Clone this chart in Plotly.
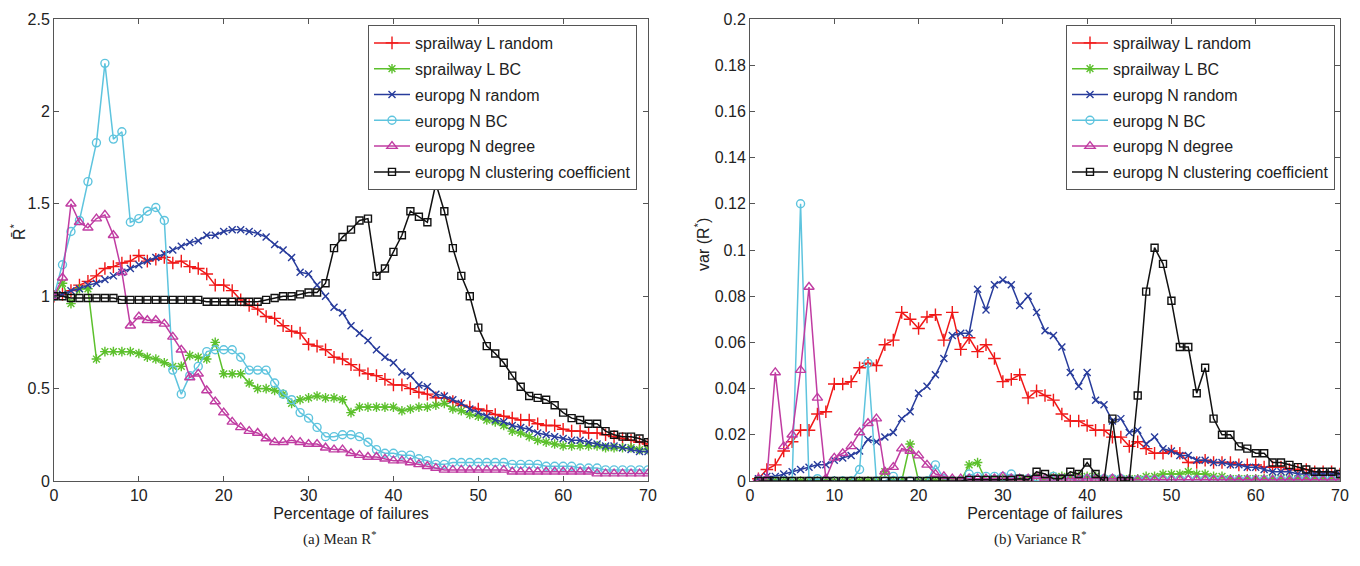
import plotly.graph_objects as go

# ---------------- data ----------------
x_mean = list(range(0, 71))
x_var = list(range(1, 71))

series_names = ["sprailway L random", "sprailway L BC", "europg N random",
                "europg N BC", "europg N degree", "europg N clustering coefficient"]

mean_sprail_random = [1.00, 1.01, 1.03, 1.06, 1.08, 1.11, 1.15, 1.16, 1.18, 1.19,
                      1.22, 1.19, 1.20, 1.21, 1.18, 1.19, 1.16, 1.15, 1.12, 1.06,
                      1.06, 1.03, 0.98, 0.95, 0.93, 0.89, 0.88, 0.84, 0.81, 0.80,
                      0.74, 0.73, 0.71, 0.67, 0.66, 0.63, 0.60, 0.58, 0.57, 0.55,
                      0.52, 0.52, 0.50, 0.48, 0.47, 0.45, 0.45, 0.43, 0.41, 0.40,
                      0.39, 0.38, 0.36, 0.35, 0.34, 0.33, 0.33, 0.31, 0.30, 0.30,
                      0.28, 0.27, 0.27, 0.26, 0.26, 0.25, 0.24, 0.23, 0.22, 0.21, 0.20]
mean_sprail_bc = [1.00, 1.07, 0.96, 1.04, 1.04, 0.66, 0.70, 0.70, 0.70, 0.70,
                  0.69, 0.67, 0.66, 0.64, 0.62, 0.62, 0.68, 0.67, 0.66, 0.75,
                  0.58, 0.58, 0.58, 0.53, 0.50, 0.50, 0.49, 0.47, 0.42, 0.44,
                  0.45, 0.46, 0.45, 0.45, 0.44, 0.37, 0.40, 0.40, 0.40, 0.40,
                  0.40, 0.38, 0.39, 0.40, 0.40, 0.41, 0.42, 0.39, 0.38, 0.36,
                  0.35, 0.33, 0.32, 0.30, 0.27, 0.26, 0.24, 0.22, 0.21, 0.20,
                  0.19, 0.19, 0.19, 0.19, 0.19, 0.18, 0.18, 0.18, 0.18, 0.17, 0.17]
mean_europg_random = [1.00, 1.01, 1.03, 1.04, 1.06, 1.07, 1.09, 1.11, 1.13, 1.15,
                      1.17, 1.19, 1.21, 1.23, 1.25, 1.27, 1.29, 1.30, 1.33, 1.33,
                      1.35, 1.36, 1.36, 1.35, 1.34, 1.32, 1.28, 1.25, 1.21, 1.13,
                      1.12, 1.06, 1.00, 0.94, 0.91, 0.84, 0.80, 0.76, 0.71, 0.67,
                      0.64, 0.59, 0.57, 0.52, 0.51, 0.47, 0.46, 0.44, 0.42, 0.39,
                      0.37, 0.35, 0.33, 0.32, 0.30, 0.29, 0.28, 0.26, 0.25, 0.24,
                      0.23, 0.22, 0.22, 0.21, 0.20, 0.19, 0.19, 0.18, 0.17, 0.16, 0.16]
mean_europg_bc = [1.00, 1.17, 1.35, 1.41, 1.62, 1.83, 2.26, 1.85, 1.89, 1.40,
                  1.42, 1.46, 1.48, 1.41, 0.60, 0.47, 0.57, 0.62, 0.70, 0.71,
                  0.71, 0.71, 0.67, 0.60, 0.60, 0.60, 0.53, 0.47, 0.44, 0.37,
                  0.34, 0.29, 0.24, 0.24, 0.25, 0.25, 0.24, 0.21, 0.17, 0.15,
                  0.15, 0.14, 0.14, 0.12, 0.11, 0.09, 0.09, 0.10, 0.10, 0.10,
                  0.10, 0.10, 0.10, 0.10, 0.09, 0.09, 0.09, 0.09, 0.08, 0.08,
                  0.08, 0.08, 0.07, 0.07, 0.07, 0.06, 0.06, 0.06, 0.06, 0.06, 0.06]
mean_europg_degree = [1.00, 1.10, 1.50, 1.40, 1.37, 1.42, 1.44, 1.33, 1.13, 0.84,
                      0.89, 0.87, 0.87, 0.85, 0.78, 0.71, 0.56, 0.58, 0.49, 0.43,
                      0.37, 0.32, 0.29, 0.27, 0.26, 0.23, 0.21, 0.21, 0.22, 0.21,
                      0.20, 0.20, 0.18, 0.17, 0.17, 0.15, 0.14, 0.13, 0.13, 0.12,
                      0.11, 0.11, 0.10, 0.09, 0.08, 0.07, 0.06, 0.06, 0.06, 0.06,
                      0.06, 0.06, 0.06, 0.06, 0.05, 0.05, 0.05, 0.05, 0.05, 0.05,
                      0.05, 0.05, 0.05, 0.05, 0.04, 0.04, 0.04, 0.04, 0.04, 0.04, 0.04]
mean_europg_cc = [1.00, 1.00, 0.99, 0.99, 0.99, 0.99, 0.99, 0.99, 0.98, 0.98,
                  0.98, 0.98, 0.98, 0.98, 0.98, 0.98, 0.98, 0.98, 0.97, 0.97,
                  0.97, 0.97, 0.97, 0.97, 0.97, 0.98, 0.99, 1.00, 1.00, 1.01,
                  1.02, 1.02, 1.07, 1.26, 1.32, 1.36, 1.41, 1.42, 1.11, 1.15,
                  1.24, 1.33, 1.46, 1.43, 1.40, 1.61, 1.46, 1.26, 1.11, 1.00,
                  0.83, 0.73, 0.69, 0.64, 0.57, 0.51, 0.46, 0.45, 0.44, 0.41,
                  0.37, 0.34, 0.33, 0.31, 0.31, 0.27, 0.25, 0.24, 0.24, 0.23, 0.21]

var_sprail_random = [0.001, 0.005, 0.007, 0.013, 0.017, 0.022, 0.022, 0.029, 0.030, 0.042,
                     0.042, 0.043, 0.049, 0.051, 0.050, 0.059, 0.061, 0.073, 0.070, 0.066,
                     0.071, 0.072, 0.061, 0.073, 0.057, 0.062, 0.056, 0.059, 0.053, 0.043,
                     0.044, 0.046, 0.036, 0.039, 0.037, 0.035, 0.029, 0.026, 0.026, 0.024,
                     0.022, 0.022, 0.019, 0.019, 0.015, 0.017, 0.014, 0.012, 0.012, 0.013,
                     0.012, 0.008, 0.008, 0.009, 0.008, 0.008, 0.008, 0.007, 0.007, 0.007,
                     0.006, 0.006, 0.006, 0.005, 0.005, 0.005, 0.004, 0.004, 0.004, 0.003]
var_sprail_bc = [0.0, 0.0, 0.0, 0.0, 0.0, 0.0, 0.0, 0.0, 0.0, 0.0,
                 0.0, 0.0, 0.0, 0.0, 0.0, 0.004, 0.0, 0.0, 0.016, 0.0,
                 0.0, 0.0, 0.0, 0.0, 0.0, 0.007, 0.008, 0.0, 0.001, 0.001,
                 0.001, 0.001, 0.001, 0.002, 0.0, 0.002, 0.002, 0.002, 0.002, 0.002,
                 0.002, 0.001, 0.001, 0.001, 0.001, 0.001, 0.002, 0.002, 0.003, 0.003,
                 0.003, 0.004, 0.003, 0.003, 0.002, 0.002, 0.001, 0.001, 0.001, 0.001,
                 0.001, 0.001, 0.001, 0.001, 0.001, 0.001, 0.001, 0.001, 0.001, 0.001]
var_europg_random = [0.001, 0.002, 0.002, 0.003, 0.004, 0.005, 0.006, 0.007, 0.007, 0.009,
                     0.010, 0.011, 0.013, 0.018, 0.017, 0.019, 0.021, 0.027, 0.030, 0.038,
                     0.041, 0.046, 0.053, 0.063, 0.064, 0.064, 0.083, 0.074, 0.085, 0.087,
                     0.085, 0.076, 0.080, 0.073, 0.065, 0.063, 0.058, 0.047, 0.041, 0.047,
                     0.035, 0.033, 0.026, 0.027, 0.021, 0.022, 0.016, 0.019, 0.014, 0.013,
                     0.011, 0.011, 0.009, 0.009, 0.008, 0.008, 0.007, 0.007, 0.006, 0.006,
                     0.005, 0.004, 0.004, 0.004, 0.003, 0.003, 0.003, 0.003, 0.003, 0.003]
var_europg_bc = [0.0, 0.0, 0.0, 0.0, 0.0, 0.120, 0.0, 0.001, 0.0, 0.0,
                 0.0, 0.0, 0.005, 0.051, 0.0, 0.0, 0.002, 0.0, 0.0, 0.0,
                 0.0, 0.007, 0.001, 0.0, 0.0, 0.003, 0.002, 0.002, 0.002, 0.002,
                 0.003, 0.001, 0.001, 0.0, 0.0, 0.002, 0.001, 0.001, 0.0, 0.001,
                 0.001, 0.001, 0.001, 0.001, 0.0005, 0.0005, 0.0005, 0.0005, 0.0005, 0.0005,
                 0.0005, 0.0005, 0.0005, 0.0005, 0.0005, 0.0005, 0.0005, 0.0005, 0.0005, 0.0005,
                 0.0005, 0.0005, 0.0005, 0.0005, 0.0005, 0.0005, 0.0005, 0.0005, 0.0005, 0.0005]
var_europg_degree = [0.001, 0.001, 0.047, 0.015, 0.020, 0.048, 0.084, 0.036, 0.001, 0.010,
                     0.012, 0.015, 0.021, 0.025, 0.027, 0.004, 0.006, 0.014, 0.013, 0.011,
                     0.007, 0.003, 0.002, 0.001, 0.001, 0.001, 0.001, 0.001, 0.001, 0.002,
                     0.001, 0.001, 0.001, 0.002, 0.001, 0.001, 0.001, 0.001, 0.001, 0.001,
                     0.001, 0.001, 0.001, 0.001, 0.0005, 0.0005, 0.0005, 0.0005, 0.0005, 0.0005,
                     0.0005, 0.0005, 0.0005, 0.0005, 0.0005, 0.0005, 0.0005, 0.0005, 0.0005, 0.0005,
                     0.0005, 0.0005, 0.0005, 0.0005, 0.0005, 0.0005, 0.0005, 0.0005, 0.0005, 0.0005]
var_europg_cc = [0.0, 0.0, 0.0, 0.0, 0.0, 0.0, 0.0, 0.0, 0.0, 0.0,
                 0.0, 0.0, 0.0, 0.0, 0.0, 0.0, 0.0, 0.0, 0.0, 0.0,
                 0.0, 0.0, 0.0, 0.0, 0.0, 0.0005, 0.0005, 0.0005, 0.0005, 0.0005,
                 0.0005, 0.001, 0.0005, 0.004, 0.003, 0.001, 0.001, 0.004, 0.003, 0.008,
                 0.003, 0.0, 0.027, 0.0, 0.0, 0.037, 0.082, 0.101, 0.094, 0.078,
                 0.058, 0.058, 0.038, 0.049, 0.027, 0.020, 0.020, 0.015, 0.014, 0.012,
                 0.012, 0.008, 0.008, 0.007, 0.006, 0.005, 0.004, 0.004, 0.004, 0.003]

mean_ticks = [0, 0.5, 1, 1.5, 2, 2.5]
mean_ticktext = ["0", "0.5", "1", "1.5", "2", "2.5"]
var_ticks = [0, 0.02, 0.04, 0.06, 0.08, 0.1, 0.12, 0.14, 0.16, 0.18, 0.2]
var_ticktext = ["0", "0.02", "0.04", "0.06", "0.08", "0.1", "0.12", "0.14", "0.16", "0.18", "0.2"]
x_ticks = [0, 10, 20, 30, 40, 50, 60, 70]

# ---------------- styles ----------------
colors = ["#f01818", "#5cc02c", "#283c9c", "#5ec4de", "#c03ca2", "#111111"]
symbols = ["cross-thin-open", "asterisk-open", "x-thin-open",
           "circle-open", "triangle-up-open", "square-open"]
msizes = [9, 8, 7, 8, 9, 7]

mean_data = [mean_sprail_random, mean_sprail_bc, mean_europg_random,
             mean_europg_bc, mean_europg_degree, mean_europg_cc]
var_data = [var_sprail_random, var_sprail_bc, var_europg_random,
            var_europg_bc, var_europg_degree, var_europg_cc]

FONT = "Liberation Sans, Arial, sans-serif"
SERIF = "Liberation Serif, Times New Roman, serif"
W, H = 1360, 566

fig = go.Figure()
for i, name in enumerate(series_names):
    fig.add_trace(go.Scatter(
        x=x_mean, y=mean_data[i], name=name, mode="lines+markers",
        xaxis="x", yaxis="y", legend="legend", legendgroup="a%d" % i,
        line=dict(color=colors[i], width=1.5),
        marker=dict(symbol=symbols[i], size=msizes[i], color=colors[i],
                    line=dict(width=1.4, color=colors[i]))))
for i, name in enumerate(series_names):
    fig.add_trace(go.Scatter(
        x=x_var, y=var_data[i], name=name, mode="lines+markers",
        xaxis="x2", yaxis="y2", legend="legend2", legendgroup="b%d" % i,
        line=dict(color=colors[i], width=1.5),
        marker=dict(symbol=symbols[i], size=msizes[i], color=colors[i],
                    line=dict(width=1.4, color=colors[i]))))

axis_common = dict(showline=True, linecolor="#555555", linewidth=1, mirror="ticks",
                   ticks="inside", ticklen=5, tickcolor="#555555", showgrid=False,
                   zeroline=False, automargin=False,
                   tickfont=dict(family=FONT, size=16, color="#222"))

ydom = [1 - 481 / H, 1 - 19 / H]
legend_common = dict(xanchor="left", yanchor="top", bgcolor="white",
                     bordercolor="#555", borderwidth=1,
                     font=dict(family=FONT, size=16, color="#222"),
                     tracegroupgap=2, traceorder="grouped", itemwidth=36)

fig.update_layout(
    width=W, height=H,
    margin=dict(l=0, r=0, t=0, b=0, autoexpand=False),
    paper_bgcolor="white", plot_bgcolor="white",
    font=dict(family=FONT, size=16, color="#222"),
    xaxis=dict(domain=[54 / W, 648 / W], range=[0, 70], tickvals=x_ticks,
               anchor="y", title=dict(text="Percentage of failures", standoff=4,
                                      font=dict(size=16)), **axis_common),
    yaxis=dict(domain=ydom, range=[0, 2.5], tickvals=mean_ticks, ticktext=mean_ticktext,
               anchor="x", **axis_common),
    xaxis2=dict(domain=[750 / W, 1340 / W], range=[0, 70], tickvals=x_ticks,
                anchor="y2", title=dict(text="Percentage of failures", standoff=4,
                                        font=dict(size=16)), **axis_common),
    yaxis2=dict(domain=ydom, range=[0, 0.2], tickvals=var_ticks, ticktext=var_ticktext,
                anchor="x2", **axis_common),
    legend=dict(x=368 / W, y=1 - 25 / H, **legend_common),
    legend2=dict(x=1066 / W, y=1 - 25 / H, **legend_common),
    annotations=[
        dict(text="R\u0304<sup>*</sup>", x=18 / W, y=1 - 232 / H, xref="paper", yref="paper",
             showarrow=False, textangle=-90, xanchor="center", yanchor="middle",
             font=dict(family=FONT, size=16, color="#222")),
        dict(text="var (R<sup>*</sup>)", x=702 / W, y=1 - 245 / H, xref="paper", yref="paper",
             showarrow=False, textangle=-90, xanchor="center", yanchor="middle",
             font=dict(family=FONT, size=16, color="#222")),
        dict(text="(a) Mean R<sup>*</sup>", x=340 / W, y=1 - 538 / H, xref="paper", yref="paper",
             showarrow=False, xanchor="center", yanchor="middle",
             font=dict(family=SERIF, size=15, color="#222")),
        dict(text="(b) Variance R<sup>*</sup>", x=1040 / W, y=1 - 538 / H, xref="paper", yref="paper",
             showarrow=False, xanchor="center", yanchor="middle",
             font=dict(family=SERIF, size=15, color="#222")),
    ],
)

fig.write_html("out.html", config={"displayModeBar": False},
               post_script="document.body.style.margin='0';")
